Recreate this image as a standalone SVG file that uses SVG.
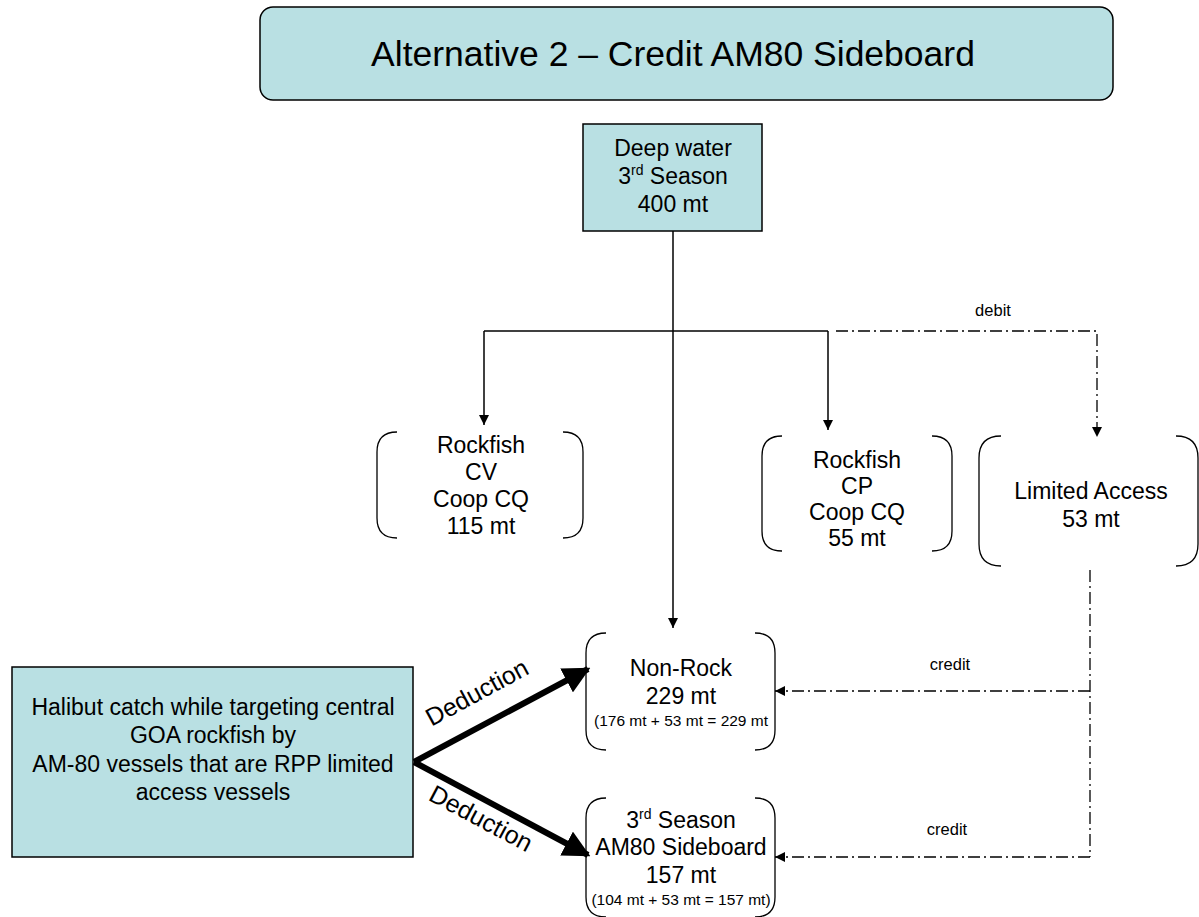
<svg xmlns="http://www.w3.org/2000/svg" width="1199" height="917" viewBox="0 0 1199 917">
<style>
text{font-family:"Liberation Sans",Arial,sans-serif;fill:#000;text-anchor:middle}
.box{fill:#b9e0e3;stroke:#000;stroke-width:1.5}
.br{fill:none;stroke:#000;stroke-width:1.3}
.ln{fill:none;stroke:#000;stroke-width:1.5}
.dd{fill:none;stroke:#000;stroke-width:1.3;stroke-dasharray:12 4 2 4}
.thick{fill:none;stroke:#000;stroke-width:6}
.t23{font-size:23px}
.t25{font-size:25px}
.t15{font-size:15.5px}
.t16{font-size:16.5px}
.sup{font-size:14px}
</style>
<defs>
<marker id="a" viewBox="0 0 10 10" refX="10" refY="5" markerWidth="10" markerHeight="10" markerUnits="userSpaceOnUse" orient="auto"><path d="M0,0L10,5L0,10z" fill="#000"/></marker>
<marker id="b" viewBox="0 0 10 10" refX="9" refY="5" markerWidth="4.5" markerHeight="4.5" orient="auto"><path d="M0,0L10,5L0,10z" fill="#000"/></marker>
</defs>
<g id="title">
<rect class="box" x="260" y="7" width="853" height="93" rx="13"/>
<text x="673" y="66" style="font-size:35.5px">Alternative 2 – Credit AM80 Sideboard</text>
</g>
<g id="connectors">
<path class="ln" d="M673,231V628" marker-end="url(#a)"/>
<path class="ln" d="M484,331H828"/>
<path class="ln" d="M484,331V425" marker-end="url(#a)"/>
<path class="ln" d="M828,331V430" marker-end="url(#a)"/>
<path class="dd" d="M836,331H1097V437" marker-end="url(#a)"/>
<path class="dd" d="M1090,570V857"/>
<path class="dd" d="M1090,691H775" marker-end="url(#a)"/>
<path class="dd" d="M1090,857H775" marker-end="url(#a)"/>
<path class="thick" d="M414,762L588,669" marker-end="url(#b)"/>
<path class="thick" d="M414,762L588,855" marker-end="url(#b)"/>
<text class="t16" x="993" y="316">debit</text>
<text class="t16" x="950" y="670">credit</text>
<text class="t16" x="947" y="835">credit</text>
<text class="t25" transform="translate(481,700) rotate(-28.5)">Deduction</text>
<text class="t25" transform="translate(477,826) rotate(28)">Deduction</text>
</g>
<g id="deepwater">
<rect class="box" x="583" y="124" width="179" height="107"/>
<text class="t23" x="673" y="156">Deep water</text>
<text class="t23" x="673" y="184">3<tspan class="sup" dy="-9">rd</tspan><tspan dy="9"> Season</tspan></text>
<text class="t23" x="673" y="212">400 mt</text>
</g>
<g id="rockfishcv">
<path class="br" d="M397,432Q377,432 377,452V518Q377,538 397,538M563,432Q583,432 583,452V518Q583,538 563,538"/>
<text class="t23" x="481" y="453">Rockfish</text>
<text class="t23" x="481" y="480">CV</text>
<text class="t23" x="481" y="507">Coop CQ</text>
<text class="t23" x="481" y="534">115 mt</text>
</g>
<g id="rockfishcp">
<path class="br" d="M782,436Q762,436 762,456V531Q762,551 782,551M932,436Q952,436 952,456V531Q952,551 932,551"/>
<text class="t23" x="857" y="468">Rockfish</text>
<text class="t23" x="857" y="494">CP</text>
<text class="t23" x="857" y="520">Coop CQ</text>
<text class="t23" x="857" y="546">55 mt</text>
</g>
<g id="limited">
<path class="br" d="M1001,436Q979,436 979,458V544Q979,566 1001,566M1176,436Q1198,436 1198,458V544Q1198,566 1176,566"/>
<text class="t23" x="1091" y="499">Limited Access</text>
<text class="t23" x="1091" y="527">53 mt</text>
</g>
<g id="nonrock">
<path class="br" d="M606,633Q586,633 586,653V730Q586,750 606,750M755,633Q775,633 775,653V730Q775,750 755,750"/>
<text class="t23" x="681" y="676">Non-Rock</text>
<text class="t23" x="681" y="704">229 mt</text>
<text class="t15" x="681" y="726">(176 mt + 53 mt = 229 mt</text>
</g>
<g id="sideboard">
<path class="br" d="M606,798Q586,798 586,818V897Q586,917 606,917M755,798Q775,798 775,818V897Q775,917 755,917"/>
<text class="t23" x="681" y="828">3<tspan class="sup" dy="-9">rd</tspan><tspan dy="9"> Season</tspan></text>
<text class="t23" x="681" y="855">AM80 Sideboard</text>
<text class="t23" x="681" y="883">157 mt</text>
<text class="t15" x="681" y="905">(104 mt + 53 mt = 157 mt)</text>
</g>
<g id="halibut">
<rect class="box" x="12" y="667" width="401" height="190"/>
<text class="t23" x="213" y="715">Halibut catch while targeting central</text>
<text class="t23" x="213" y="743">GOA rockfish by</text>
<text class="t23" x="213" y="772">AM-80 vessels that are RPP limited</text>
<text class="t23" x="213" y="800">access vessels</text>
</g>
</svg>
